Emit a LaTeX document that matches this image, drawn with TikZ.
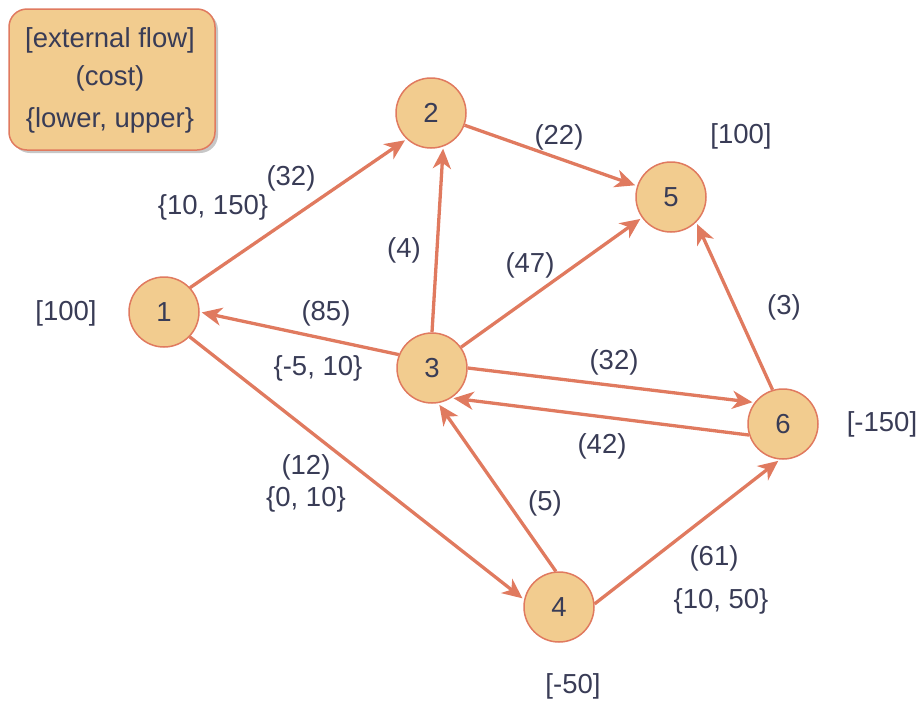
\documentclass[tikz,border=0pt]{standalone}
\usepackage{fontspec}
\setmainfont{Liberation Sans}
\usetikzlibrary{arrows.meta}
\definecolor{nodefill}{HTML}{F2CC8F}
\definecolor{edgecol}{HTML}{E07A5F}
\definecolor{txtcol}{HTML}{393C56}
\begin{document}
\begin{tikzpicture}[x=1pt,y=-1pt,
  every node/.style={text=txtcol,font=\fontsize{27.5}{32}\selectfont},
  vertex/.style={circle,minimum size=70pt,inner sep=0pt,fill=nodefill,draw=edgecol,line width=1.5pt},
  arc/.style={draw=edgecol,line width=3.3pt,shorten >=2pt,
    -{Stealth[length=20pt,width=18pt,inset=6pt]}},
  lbl/.style={inner sep=0pt,anchor=center}]
\useasboundingbox (0,0) rectangle (922,702);

% legend box with its drop shadow
\fill[black!22,rounded corners=18pt] (12,12) rectangle (218,153);
\draw[fill=nodefill,draw=edgecol,line width=1.5pt,rounded corners=18pt] (9,9) rectangle (215,150);
\node[lbl] (legA) at (110,40) {[external flow]};
\node[lbl] (legB) at (110,78) {(cost)};
\node[lbl] (legC) at (110,120) {\{lower, upper\}};

% vertices
\node[vertex] (n1) at (164,312) {1};
\node[vertex] (n2) at (431,113) {2};
\node[vertex] (n3) at (432,368) {3};
\node[vertex] (n4) at (559,607) {4};
\node[vertex] (n5) at (671,197) {5};
\node[vertex] (n6) at (783,424) {6};

% arcs
\draw[arc] (n1.43) -- (n2.227);
\draw[arc] (n2.-20) -- (n5.162);
\draw[arc] (n3.90) -- (n2.-70);
\draw[arc] (n3) -- (n5);
\draw[arc] (n3.158) -- (n1.0);
\draw[arc] (n3.0) -- (n6.143);
\draw[arc] (n6.198) -- (n3.-57);
\draw[arc] (n1.-44) -- (n4.168);
\draw[arc] (n4.95) -- (n3.-80);
\draw[arc] (n4.5) -- (n6.265);
\draw[arc] (n6.107) -- (n5.-45);

% supplies and demands
\node[lbl] (s1) at (66,313) {[100]};
\node[lbl] (s5) at (741,136) {[100]};
\node[lbl] (s6) at (882,424) {[-150]};
\node[lbl] (s4) at (573,686) {[-50]};

% costs and bounds
\node[lbl] (c12) at (291,178) {(32)};
\node[lbl] (b12) at (213,207) {\{10, 150\}};
\node[lbl] (c25) at (559,137) {(22)};
\node[lbl] (c32) at (404,250) {(4)};
\node[lbl] (c35) at (530,265) {(47)};
\node[lbl] (c31) at (326,313) {(85)};
\node[lbl] (b31) at (318,368) {\{-5, 10\}};
\node[lbl] (c36) at (614,362) {(32)};
\node[lbl] (c65) at (784,307) {(3)};
\node[lbl] (c63) at (602,446) {(42)};
\node[lbl] (c14) at (306,467) {(12)};
\node[lbl] (b14) at (306,499) {\{0, 10\}};
\node[lbl] (c43) at (545,503) {(5)};
\node[lbl] (c46) at (714,558) {(61)};
\node[lbl] (b46) at (721,601) {\{10, 50\}};
\end{tikzpicture}
\end{document}
